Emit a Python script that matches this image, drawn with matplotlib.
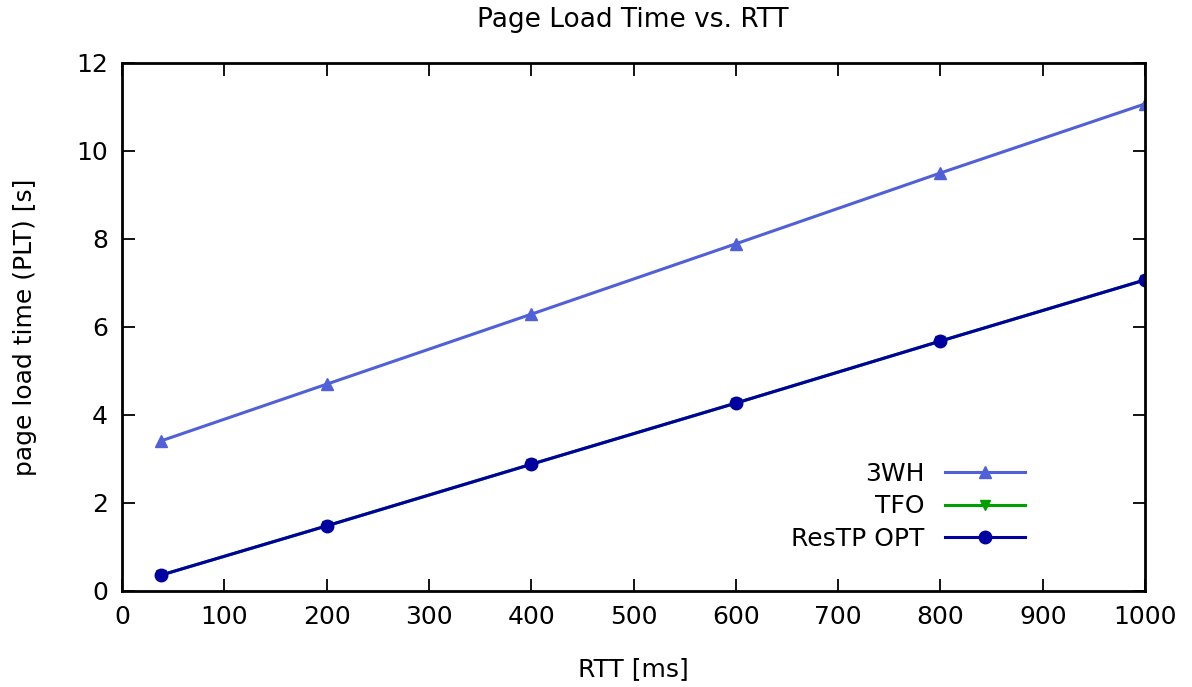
import matplotlib
matplotlib.use("Agg")
import matplotlib.pyplot as plt

# RTT in ms, page load time in s
rtt = [38, 200, 400, 600, 800, 1000]
plt_3wh = [3.41, 4.70, 6.29, 7.89, 9.50, 11.07]
plt_tfo = [0.36, 1.48, 2.88, 4.27, 5.68, 7.07]
plt_restp = [0.36, 1.48, 2.88, 4.27, 5.68, 7.07]

plt.rcParams['font.family'] = 'DejaVu Sans'
plt.rcParams['font.size'] = 18

fig = plt.figure(figsize=(11.92, 6.87), dpi=100)
ax = fig.add_axes([122/1192, 1-591/687, (1145-122)/1192, (591-63)/687])

ax.plot(rtt, plt_3wh, color='#5060d8', lw=2.2, marker='^', ms=9, label='3WH')
ax.plot(rtt, plt_tfo, color='#00a000', lw=2.2, marker='v', ms=7, label='TFO')
ax.plot(rtt, plt_restp, color='#0000a0', lw=2.2, marker='o', ms=9, label='ResTP OPT')

ax.set_xlim(0, 1000)
ax.set_ylim(0, 12)
ax.set_xticks(range(0, 1001, 100))
ax.set_yticks(range(0, 13, 2))
ax.tick_params(direction='in', length=9, width=1.3, top=True, right=True, pad=10)
for s in ax.spines.values():
    s.set_linewidth(2)

ax.set_xlabel('RTT [ms]', labelpad=20)
ax.set_ylabel('page load time (PLT) [s]', labelpad=28)
fig.text(633/1192, 1-20/687, 'Page Load Time vs. RTT', ha='center', va='center', fontsize=19)

ax.legend(loc='lower right', bbox_to_anchor=(1037/1192, 1-563/687), bbox_transform=fig.transFigure,
          frameon=False, markerfirst=False, handlelength=3.2, handletextpad=0.8,
          labelspacing=0.33, borderpad=0, fontsize=18)

fig.savefig('out.png', dpi=100)
